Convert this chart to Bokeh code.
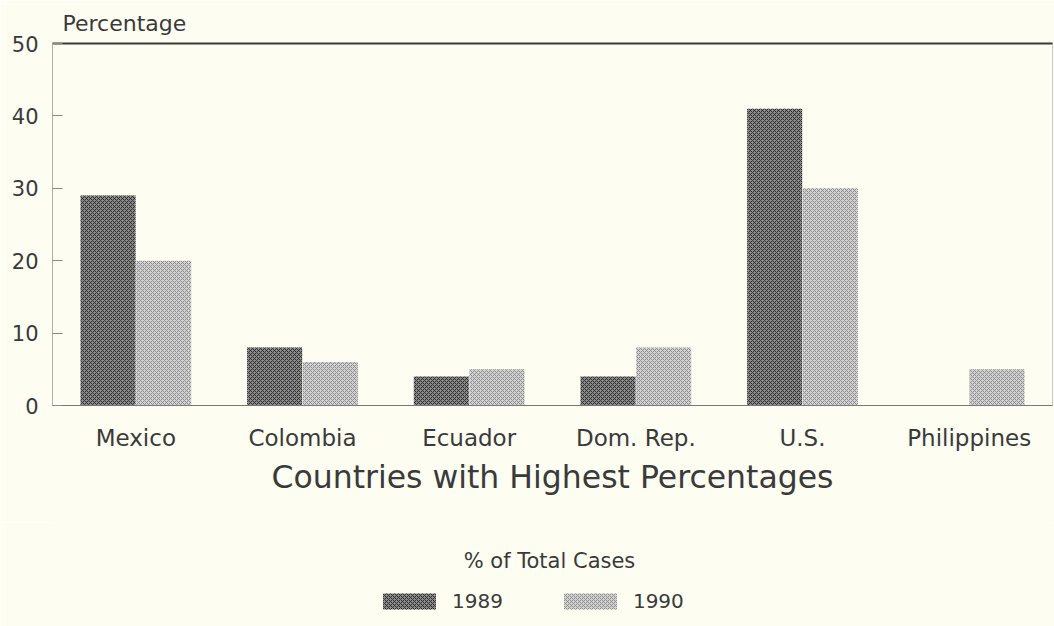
from bokeh.plotting import figure
from bokeh.models import (FactorRange, Range1d, LinearAxis, Legend, LegendItem,
                          Label, FixedTicker, ColumnDataSource)
from bokeh.layouts import column
from bokeh.transform import dodge
from bokeh.embed import file_html
from bokeh.resources import INLINE

countries = ["Mexico", "Colombia", "Ecuador", "Dom. Rep.", "U.S.", "Philippines"]
pct_1989 = [29, 8, 4, 4, 41, 0]
pct_1990 = [20, 6, 5, 8, 30, 5]
y_ticks = [0, 10, 20, 30, 40, 50]
series_names = ["1989", "1990"]
legend_title = "% of Total Cases"

FONT = "DejaVu Sans"
TXT = "#3a3a3a"
BG = "#fdfdf2"
STYLE89 = dict(fill_color="#8a8a8a", line_color=None, hatch_pattern="x",
               hatch_color="#2e2e2e", hatch_scale=4, hatch_weight=1)
STYLE90 = dict(fill_color="#d2d2d2", line_color=None, hatch_pattern="x",
               hatch_color="#8e8e8e", hatch_scale=4, hatch_weight=1)

src = ColumnDataSource(dict(country=countries, y89=pct_1989, y90=pct_1990))

W = 1054
H_MAIN = 522
H_LEG = 104
LEFT = 52
RIGHT = 2

p = figure(x_range=FactorRange(*countries, range_padding=0),
           y_range=Range1d(0, 50),
           width=W, height=H_MAIN,
           output_backend="svg", toolbar_location=None,
           min_border_left=LEFT, min_border_right=RIGHT,
           min_border_top=43, min_border_bottom=H_MAIN - 405,
           background_fill_color=BG, border_fill_color=BG)

r89 = p.vbar(x=dodge("country", -0.167, range=p.x_range), top="y89", width=0.33,
             source=src, **STYLE89)
r90 = p.vbar(x=dodge("country", 0.167, range=p.x_range), top="y90", width=0.33,
             source=src, **STYLE90)

p.grid.visible = False
p.outline_line_color = "#c8c8c8"

# y axis
ya = p.yaxis[0]
ya.ticker = FixedTicker(ticks=y_ticks)
ya.minor_tick_line_color = None
ya.major_tick_in = 10
ya.major_tick_out = 0
ya.major_tick_line_color = "#888888"
ya.axis_line_color = "#b0b0b0"
ya.major_label_standoff = 14
ya.major_label_text_font = FONT
ya.major_label_text_font_size = "21px"
ya.major_label_text_color = TXT

# x axis
xa = p.xaxis[0]
xa.axis_line_color = "#777777"
xa.major_tick_line_color = None
xa.minor_tick_line_color = None
xa.major_label_standoff = 13
xa.major_label_text_font = FONT
xa.major_label_text_font_size = "23px"
xa.major_label_text_color = TXT
xa.axis_label = "Countries with Highest Percentages"
xa.axis_label_text_font = FONT
xa.axis_label_text_font_size = "31.5px"
xa.axis_label_text_font_style = "normal"
xa.axis_label_text_color = TXT
xa.axis_label_standoff = 5

# top dark border line
top = LinearAxis(ticker=FixedTicker(ticks=[]), axis_line_color="#3a3a3a",
                 axis_line_width=2, major_label_text_font_size="0px",
                 major_label_standoff=0, major_tick_in=0, major_tick_out=0,
                 major_tick_line_color=None, minor_tick_line_color=None)
p.add_layout(top, "above")

# title
p.title.text = "Percentage"
p.title.text_font = FONT
p.title.text_font_size = "22px"
p.title.text_font_style = "normal"
p.title.text_color = TXT
p.title.align = "left"
p.title.offset = 10
p.title.standoff = 16

# legend panel (its frame is aligned with the main frame by the column)
q = figure(x_range=Range1d(LEFT, W - RIGHT), y_range=Range1d(0, H_LEG),
           width=W, height=H_LEG, output_backend="svg", toolbar_location=None,
           x_axis_location=None, y_axis_location=None,
           min_border=0, background_fill_color=BG, border_fill_color=BG,
           outline_line_color=None)
q.grid.visible = False
hidden = ColumnDataSource(dict(x=[-500], top=[-500]))
d89 = q.vbar(x="x", top="top", width=1, source=hidden, **STYLE89)
d90 = q.vbar(x="x", top="top", width=1, source=hidden, **STYLE90)

legend = Legend(items=[LegendItem(label=series_names[0], renderers=[d89]),
                       LegendItem(label=series_names[1], renderers=[d90])],
                orientation="horizontal", location=(324, 13),
                glyph_width=66, glyph_height=20, label_standoff=10,
                spacing=54, padding=0, margin=0,
                border_line_color=None, background_fill_alpha=0,
                label_text_font=FONT, label_text_font_size="20px",
                label_text_color=TXT, label_height=20)
q.add_layout(legend, "center")

lt = Label(x=549, y=H_LEG - (560 - H_MAIN), text=legend_title, text_align="center",
           text_baseline="middle", text_font=FONT, text_font_size="21px",
           text_color=TXT)
q.add_layout(lt)

open("out.html", "w").write(file_html(column(p, q, spacing=0), INLINE))
